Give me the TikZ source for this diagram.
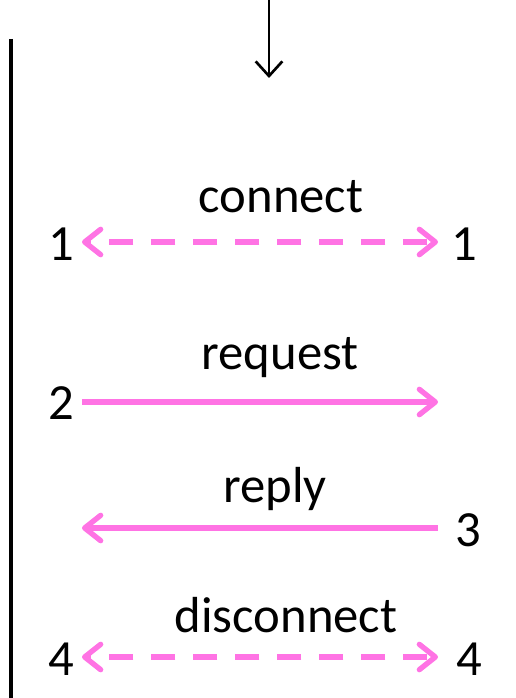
\documentclass[tikz,border=0pt]{standalone}
\usepackage{fontspec}
\setmainfont{Carlito}
\usetikzlibrary{arrows.meta,positioning}

\definecolor{msgpink}{RGB}{255,115,228}
\tikzset{every picture/.style={line width=0.75pt}}
\tikzset{
  lbl/.style={inner sep=0.75pt, font=\fontsize{38}{40}\selectfont},
  num/.style={inner sep=0.75pt, font=\fontsize{38}{40}\selectfont},
  msg/.style={draw=msgpink, line width=4pt, -{Straight Barb[length=12pt,width=19pt,round]}},
  dmsg/.style={msg, {Straight Barb[length=12pt,width=19pt,round]}-{Straight Barb[length=12pt,width=19pt,round]}, dash pattern=on 18pt off 13.5pt, dash phase=-4pt},
}

\begin{document}
\begin{tikzpicture}[x=0.75pt,y=0.75pt,yscale=-1,xscale=1]
\useasboundingbox (0,0) rectangle (516,698);

%Time line
\coordinate (tltop) at (11,39);
\coordinate (tlbot) at (11,698);
\draw [line width=2.3pt] (tltop) -- (tlbot);

%Incoming arrow
\coordinate (intop) at (269,0);
\coordinate (inbot) at (269,78);
\draw [line width=2pt, -{Straight Barb[length=11pt,width=20pt]}] (intop) -- (inbot);

%connect
\coordinate (cl) at (82,242);
\coordinate (cr) at (438,242);
\node [num, left=5pt of cl, yshift=-2pt] (n1l) {1};
\node [num, right=9pt of cr, yshift=-2pt] (n1r) {1};
\node [lbl] (lconnect) at (281,197) {connect};
\draw [dmsg] (cr) -- (cl);

%request
\coordinate (ql) at (82,402);
\coordinate (qr) at (438,402);
\node [num, left=5pt of ql, yshift=-1pt] (n2) {2};
\node [lbl] (lrequest) at (280,358) {request};
\draw [msg] (ql) -- (qr);

%reply
\coordinate (rl) at (82,528);
\coordinate (rr) at (438,528);
\node [num, right=12pt of rr, yshift=-2pt] (n3) {3};
\node [lbl] (lreply) at (275,489) {reply};
\draw [msg] (rr) -- (rl);

%disconnect
\coordinate (dl) at (82,657);
\coordinate (dr) at (438,657);
\node [num, left=5pt of dl, yshift=-2pt] (n4l) {4};
\node [num, right=13pt of dr, yshift=-2pt] (n4r) {4};
\node [lbl] (ldisconnect) at (286,615) {disconnect};
\draw [dmsg] (dr) -- (dl);

\end{tikzpicture}
\end{document}
